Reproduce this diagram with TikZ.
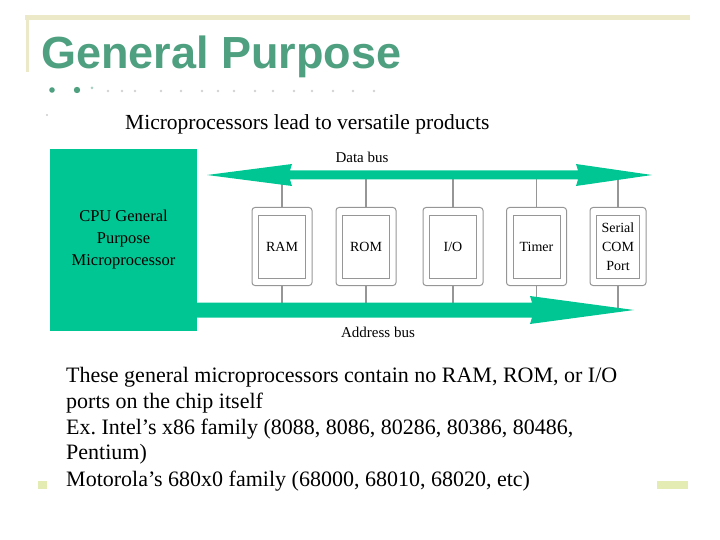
\documentclass[tikz,border=0pt]{standalone}
\usepackage{fontspec}
\setmainfont{Liberation Serif}
\newfontfamily\titlefont{Liberation Sans}
\definecolor{busgreen}{RGB}{0,198,148}
\definecolor{titlegreen}{RGB}{78,160,128}
\definecolor{beige}{RGB}{236,233,200}
\definecolor{paleyg}{RGB}{228,236,180}
\definecolor{boxgray}{RGB}{150,150,150}
\tikzset{
  unitbox/.style={draw=boxgray, line width=1pt, rounded corners=3pt, minimum width=60pt, minimum height=78pt, inner sep=0pt, align=center, font=\fontsize{14}{19}\selectfont},
  inner/.style={draw=boxgray, line width=0.8pt},
  tap/.style={draw=boxgray, line width=1.2pt},
  bus/.style={fill=busgreen, draw=none},
  body/.style={anchor=base west, inner sep=0pt, font=\fontsize{22}{26}\selectfont}
}
\begin{document}
\begin{tikzpicture}[x=1pt,y=-1pt]
\useasboundingbox (0,0) rectangle (720,540);
% header decoration
\draw[beige, line width=5pt] (25,18) -- (690,18);
\draw[beige, line width=3pt] (27,18) -- (27,72);
\node[anchor=base west, inner sep=0pt, text=titlegreen, font=\titlefont\bfseries\fontsize{45}{48}\selectfont] (title) at (41,69) {General Purpose};
% dotted rule
\fill[titlegreen] (52,90) circle (2.8pt);
\fill[titlegreen] (77,90) circle (3.2pt);
\fill[titlegreen!50] (92,88) circle (1.5pt);
\foreach \x in {108,122,135,161,181,202,218,234,255,273,294,312,333,353,374}
  \fill[gray!35] (\x,91) circle (1.3pt);
\fill[gray!40] (47,115) circle (1.2pt);
\node[anchor=base west, inner sep=0pt, font=\fontsize{21.5}{24}\selectfont] (sub) at (125,130) {Microprocessors lead to versatile products};
% CPU
\node[fill=busgreen, minimum width=147pt, minimum height=182pt, inner sep=0pt, align=center, font=\fontsize{16.5}{22}\selectfont] (cpu) at (123.5,240) {CPU General\\Purpose\\Microprocessor};
% bus reference coordinates
\coordinate (db) at (0,175);
\coordinate (ab) at (0,310);
% unit boxes
\node[unitbox] (ram) at (282,246.5) {RAM};
\node[unitbox] (rom) at (366,246.5) {ROM};
\node[unitbox] (io) at (453,246.5) {I/O};
\node[unitbox] (timer) at (536.5,246.5) {Timer};
\node[unitbox, minimum width=56pt] (serial) at (618,246.5) {Serial\\COM\\Port};
\foreach \n in {ram,rom,io,timer,serial}{
  \draw[inner] ([shift={(7pt,-8pt)}]\n.north west) rectangle ([shift={(-7pt,8pt)}]\n.south east);
  \draw[tap] (\n.north) -- (\n.north |- db);
  \draw[tap] (\n.south) -- (\n.south |- ab);
}
% data bus (double arrow)
\fill[bus] (207,175) -- (292,164) -- (290,170.5) -- (578,170.5) -- (576,164) -- (652,175)
  -- (576,186) -- (578,179.5) -- (290,179.5) -- (292,186) -- cycle;
% address bus
\fill[bus] (197,302.5) -- (532,302.5) -- (530,296) -- (634,310) -- (530,324) -- (532,317.5) -- (197,317.5) -- cycle;
\node[font=\fontsize{15}{18}\selectfont, inner sep=1pt] (dblabel) at (362,157) {Data bus};
\node[font=\fontsize{15}{18}\selectfont, inner sep=1pt] (ablabel) at (378,332) {Address bus};
% body text
\node[body] (l1) at (66,382) {These general microprocessors contain no RAM, ROM, or I/O};
\node[body] (l2) at (66,408) {ports on the chip itself};
\node[body] (l3) at (66,434) {Ex.\ Intel's x86 family (8088, 8086, 80286, 80386, 80486,};
\node[body] (l4) at (66,459) {Pentium)};
\node[body] (l5) at (66,486) {Motorola's 680x0 family (68000, 68010, 68020, etc)};
% footer marks
\fill[paleyg] (38,481) rectangle (47,489);
\fill[paleyg] (657,481) rectangle (688,489);
\end{tikzpicture}
\end{document}
